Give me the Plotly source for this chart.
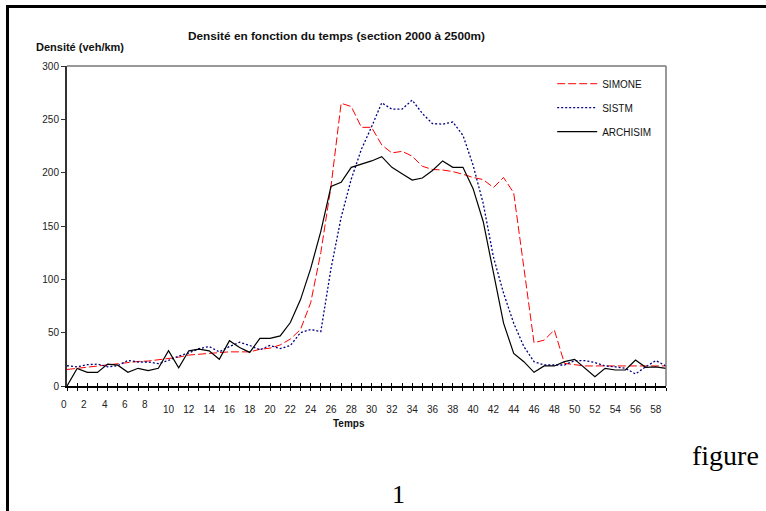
import plotly.graph_objects as go

temps = list(range(60))

archisim = [0, 16.5, 12.8, 12.8, 20.5, 19.5, 12.8, 16.6, 14.5, 16.6,
            33, 17, 33, 34.5, 33, 25, 42.5, 36, 31.5, 44.7,
            44.7, 47, 59.5, 81, 110, 145, 187, 191, 205, 208,
            211, 215, 205, 199, 193, 195, 202, 211, 205, 205,
            185, 154, 106, 59, 30.6, 22.8, 12.8, 18.8, 18.8, 22.8,
            25, 17.2, 8.8, 16.6, 15, 15, 24.4, 17.5, 18, 16.6]

simone = [15.5, 16.6, 18, 18.5, 19.7, 21, 22.5, 23, 23.4, 24.7,
          25.6, 27, 29, 30, 30.6, 31.3, 32, 32.2, 32, 34.4,
          35.5, 38.5, 44, 53, 78, 125, 187, 265, 262, 242.5,
          242.5, 226, 218.5, 220, 215.5, 206, 203, 202.5, 201, 198.5,
          195.5, 193.5, 186, 195.5, 181, 111, 40.6, 43, 52.5, 21.2,
          19.7, 18.8, 18.8, 18.8, 18.8, 18.8, 18.8, 18.8, 18.8, 18.8]

sistm = [19, 18, 20, 20.5, 18, 19, 24, 22.5, 22.5, 21,
         24, 28, 31, 35, 37, 32, 37, 41, 38, 34,
         38, 35, 38, 50, 53, 51, 110, 158, 194, 222,
         243, 265.5, 259.5, 259.5, 268, 255.5, 246, 245.5, 247.5, 235,
         207, 171, 121, 87, 58.8, 37, 22.8, 19.7, 19.7, 19.7,
         23.8, 23.8, 22, 18.8, 18, 16.6, 11.3, 18, 23.8, 18.8]

y_ticks = [0, 50, 100, 150, 200, 250, 300]
x_tick_labels_low = ["0", "2", "4", "6", "8"]
x_tick_labels_high = [str(v) for v in range(10, 60, 2)]

FONT = "Liberation Sans, Arial, sans-serif"
SERIF = "Liberation Serif, Times New Roman, serif"

fig = go.Figure()
fig.add_trace(go.Scatter(x=temps, y=simone, name="SIMONE", mode="lines",
                         line=dict(color="#FF0000", width=1, dash="8px,3px"),
                         legendgroup="a"))
fig.add_trace(go.Scatter(x=temps, y=sistm, name="SISTM", mode="lines",
                         line=dict(color="#000080", width=1.3, dash="2px,2px"),
                         legendgroup="b"))
fig.add_trace(go.Scatter(x=temps, y=archisim, name="ARCHISIM", mode="lines",
                         line=dict(color="#000000", width=1.2),
                         legendgroup="c"))
# invisible trace to carry the inside ticks axis
fig.add_trace(go.Scatter(x=[0], y=[0], xaxis="x2", mode="markers",
                         marker=dict(opacity=0), showlegend=False, hoverinfo="skip"))

ticktext = []
for v in temps:
    s = str(v)
    ticktext.append(s if s in x_tick_labels_high else "")

fig.update_layout(
    width=766, height=511,
    margin=dict(l=67, r=100, t=66, b=125, pad=0),
    paper_bgcolor="white", plot_bgcolor="white",
    font=dict(family=FONT, size=10, color="#222"),
    showlegend=True,
    legend=dict(x=0.81, y=0.99, xanchor="left", yanchor="top",
                bgcolor="rgba(0,0,0,0)", font=dict(size=10, color="#111"),
                tracegroupgap=5, traceorder="grouped", itemwidth=40),
    xaxis=dict(range=[0, 59], tickmode="array", tickvals=temps, ticktext=ticktext,
               ticks="outside", ticklen=3, tickcolor="black", tickwidth=1,
               showline=True, linecolor="black", linewidth=1.5,
               showgrid=False, zeroline=False, tickfont=dict(size=10, color="#222"),
               ticklabelstandoff=10),
    xaxis2=dict(range=[0, 59], overlaying="x", anchor="y", side="bottom",
                tickmode="array", tickvals=temps, ticks="inside", ticklen=3,
                tickcolor="black", tickwidth=1, showticklabels=False,
                showline=False, showgrid=False, zeroline=False),
    yaxis=dict(range=[0, 300], tickmode="array", tickvals=y_ticks,
               ticks="outside", ticklen=4, tickcolor="#333", tickwidth=1,
               showline=True, linecolor="#333", linewidth=2,
               showgrid=False, zeroline=False, tickfont=dict(size=10, color="#222")),
)

# low tick labels (0-8), slightly offset as in the original
for lab in x_tick_labels_low:
    fig.add_annotation(x=int(lab), y=-0.058, xref="x", yref="paper", text=lab,
                       showarrow=False, xanchor="center", yanchor="middle",
                       xshift=-3, font=dict(size=10, color="#222"))

# plot frame (top, right) in grey
fig.add_shape(type="line", xref="paper", yref="paper", x0=0, x1=1, y0=1, y1=1,
              line=dict(color="#777", width=1.5))
fig.add_shape(type="line", xref="paper", yref="paper", x0=1, x1=1, y0=0, y1=1,
              line=dict(color="#777", width=1.5))

# outer page border (left and top visible)
fig.add_shape(type="rect", xref="paper", yref="paper",
              x0=(7.5 - 67) / 599, x1=(800 - 67) / 599,
              y0=(386 - 530) / 320, y1=(386 - 6.5) / 320,
              line=dict(color="black", width=3))

fig.add_annotation(x=(336 - 67) / 599, y=(386 - 36) / 320, xref="paper", yref="paper",
                   text="<b>Densité en fonction du temps (section 2000 à 2500m)</b>",
                   showarrow=False, font=dict(size=11.8, color="#111"),
                   xanchor="center", yanchor="middle")
fig.add_annotation(x=(34 - 67) / 599, y=(386 - 47) / 320, xref="paper", yref="paper",
                   text="<b>Densité (veh/km)</b>", showarrow=False,
                   font=dict(size=11, color="#111"), xanchor="left", yanchor="middle")
fig.add_annotation(x=(349 - 67) / 599, y=(386 - 423) / 320, xref="paper", yref="paper",
                   text="<b>Temps</b>", showarrow=False,
                   font=dict(size=10, color="#111"), xanchor="center", yanchor="middle")
fig.add_annotation(x=(690 - 67) / 599, y=(386 - 455) / 320, xref="paper", yref="paper",
                   text="figure", showarrow=False,
                   font=dict(family=SERIF, size=28, color="black"),
                   xanchor="left", yanchor="middle")
fig.add_annotation(x=(398 - 67) / 599, y=(386 - 494) / 320, xref="paper", yref="paper",
                   text="1", showarrow=False,
                   font=dict(family=SERIF, size=26, color="black"),
                   xanchor="center", yanchor="middle")

fig.write_html("out.html")
